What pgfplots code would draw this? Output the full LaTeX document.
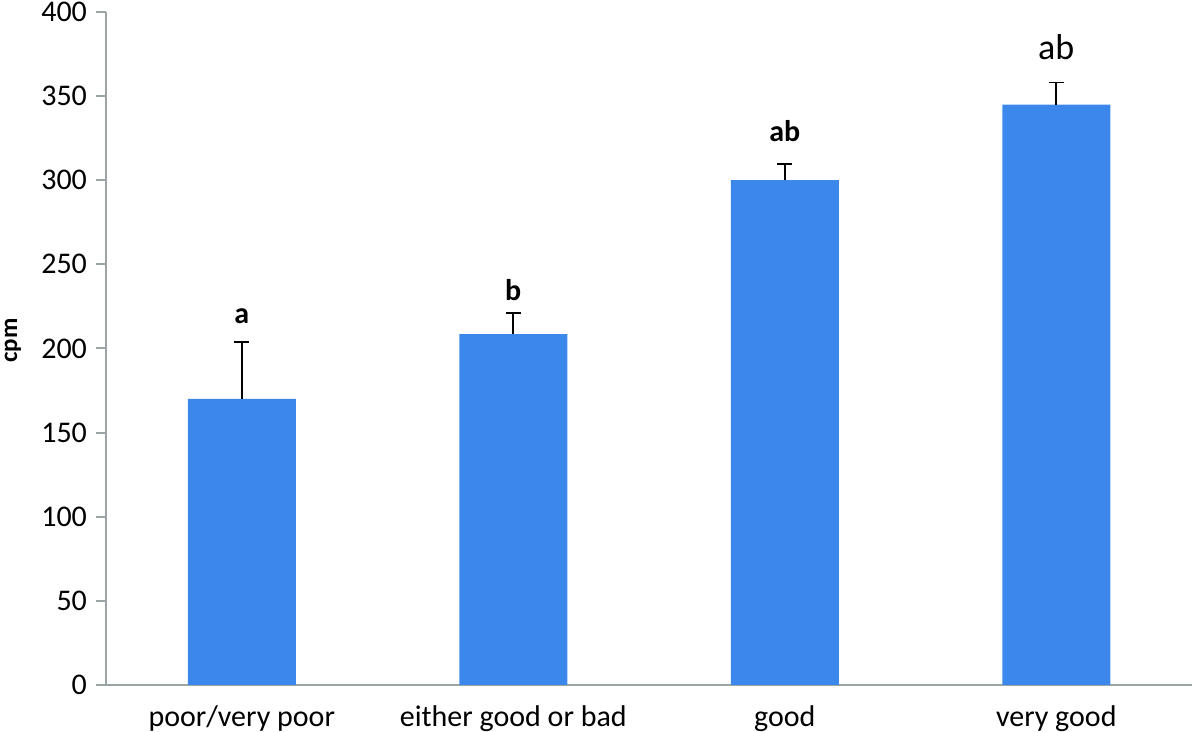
\documentclass[border=0pt]{standalone}
\usepackage{fontspec}
\setmainfont{Carlito}
\usepackage{pgfplots}
\pgfplotsset{compat=1.18}
\definecolor{barblue}{RGB}{59,135,236}
\definecolor{axgrey}{RGB}{155,165,165}
\begin{document}
\begin{tikzpicture}
\begin{axis}[
  name=ax,
  scale only axis,
  width=543pt, height=336.5pt,
  xmin=-0.5, xmax=3.5,
  ymin=0, ymax=400,
  ytick={0,50,...,400},
  xtick={0,1,2,3},
  xticklabels={poor/very poor, either good or bad, good, very good},
  minor xtick={-0.5,0.5,1.5,2.5,3.5},
  axis x line*=bottom,
  axis y line*=left,
  axis line style={axgrey, line width=1pt, -},
  tick align=outside,
  x tick style={draw=none},
  minor x tick style={axgrey, line width=1pt},
  minor tick length=5pt,
  y tick style={axgrey, line width=1pt},
  major tick length=5pt,
  tick label style={font=\fontsize{15}{17}\selectfont, black},
  /pgf/number format/assume math mode=true,
  yticklabel style={xshift=-1pt},
  xticklabel style={yshift=-2pt},
  ylabel={\textbf{cpm}},
  every axis y label/.style={at={(rel axis cs:0,0.5)}, rotate=90, anchor=center, xshift=4pt, yshift=46.5pt, font=\fontsize{12.5}{14}\selectfont},
  clip=false,
]
\addplot[ybar, bar width=54pt, fill=barblue, draw=none,
  error bars/.cd, y dir=plus, y explicit,
  error bar style={black, line width=0.8pt},
  error mark options={black, line width=0.8pt, mark size=3.75pt, rotate=90}]
  coordinates {
  (0,170) +- (0,34)
  (1,208.5) +- (0,12.5)
  (2,300) +- (0,9.5)
  (3,345) +- (0,13)
  };
\node[font=\fontsize{15}{17}\selectfont\bfseries] at (axis cs:0,219) {a};
\node[font=\fontsize{15}{17}\selectfont\bfseries] at (axis cs:1,235) {b};
\node[font=\fontsize{15}{17}\selectfont\bfseries] at (axis cs:2,329) {ab};
\node[font=\fontsize{18}{20}\selectfont] at (axis cs:3,379) {ab};
\end{axis}
\pgfresetboundingbox
\path ([xshift=-53pt,yshift=-23.5pt]ax.south west) rectangle ([xshift=4pt,yshift=6pt]ax.north east);
\end{tikzpicture}
\end{document}
